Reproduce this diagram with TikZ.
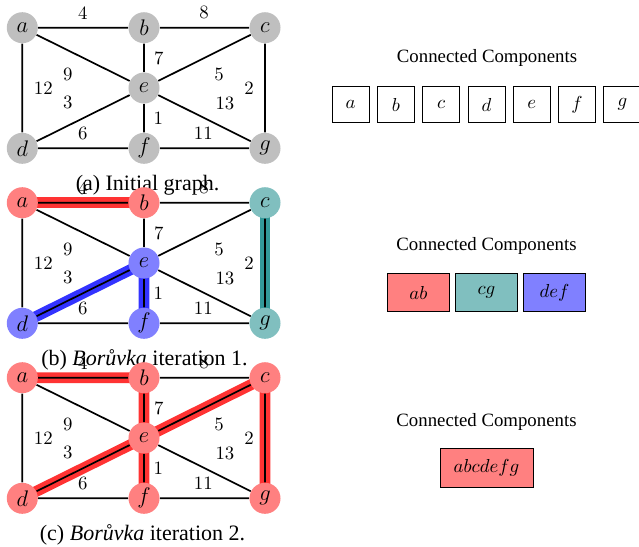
\documentclass[tikz,border=0pt]{standalone}
\usepackage{fontspec}
\setmainfont{Liberation Serif}
\usetikzlibrary{backgrounds}
\begin{document}
\begin{tikzpicture}[x=0.532pt,y=-0.532pt,
  vtx/.style={circle,minimum size=16.5pt,inner sep=0pt,font=\large},
  gedge/.style={line width=0.9pt,black},
  band/.style={line width=5.8pt},
  wlab/.style={inner sep=0pt},
  cbox/.style={draw,line width=0.5pt,inner sep=0pt},
  captxt/.style={inner sep=0pt,font=\fontsize{11.7}{14}\selectfont}]
\useasboundingbox (0,0) rectangle (639,546);

% ---------- graph (a) ----------
\node[vtx,fill=gray!50] (a1) at (22.3,27.7) {$a$};
\node[vtx,fill=gray!50] (b1) at (144,27.7) {$b$};
\node[vtx,fill=gray!50] (c1) at (265,27.7) {$c$};
\node[vtx,fill=gray!50] (e1) at (144,88) {$e$};
\node[vtx,fill=gray!50] (d1) at (22.3,148.3) {$d$};
\node[vtx,fill=gray!50] (f1) at (144,148.3) {$f$};
\node[vtx,fill=gray!50] (g1) at (265,148.3) {$g$};
\begin{pgfonlayer}{background}
\draw[gedge] (a1) -- (b1) (b1) -- (c1) (a1) -- (d1) (c1) -- (g1) (d1) -- (f1) (f1) -- (g1)
  (a1) -- (e1) (b1) -- (e1) (c1) -- (e1) (d1) -- (e1) (f1) -- (e1) (g1) -- (e1);
\end{pgfonlayer}
\node[wlab] (w4a) at (82.7,13.3) {$4$};
\node[wlab] (w8a) at (204,12.7) {$8$};
\node[wlab] (w7a) at (158.7,58.3) {$7$};
\node[wlab] (w9a) at (67.7,74) {$9$};
\node[wlab] (w12a) at (43.3,88.3) {$12$};
\node[wlab] (w3a) at (67.7,102.7) {$3$};
\node[wlab] (w5a) at (219,74) {$5$};
\node[wlab] (w2a) at (249,88.3) {$2$};
\node[wlab] (w13a) at (225,103.3) {$13$};
\node[wlab] (w6a) at (82.7,133.3) {$6$};
\node[wlab] (w1a) at (158.3,118.3) {$1$};
\node[wlab] (w11a) at (203.3,133.3) {$11$};
\node[captxt] (capa) at (147.5,185) {(a) Initial graph.};

% ---------- graph (b) ----------
\begin{scope}[shift={(0,175)}]
\node[vtx,fill=red!50] (a2) at (22.3,27.7) {$a$};
\node[vtx,fill=red!50] (b2) at (144,27.7) {$b$};
\node[vtx,fill=teal!50] (c2) at (265,27.7) {$c$};
\node[vtx,fill=blue!50] (e2) at (144,88) {$e$};
\node[vtx,fill=blue!50] (d2) at (22.3,148.3) {$d$};
\node[vtx,fill=blue!50] (f2) at (144,148.3) {$f$};
\node[vtx,fill=teal!50] (g2) at (265,148.3) {$g$};
\begin{pgfonlayer}{background}
\draw[band,red!80] (a2.center) -- (b2.center);
\draw[band,teal!80] (c2.center) -- (g2.center);
\draw[band,blue!80] (d2.center) -- (e2.center) (e2.center) -- (f2.center);
\draw[gedge] (a2) -- (b2) (b2) -- (c2) (a2) -- (d2) (c2) -- (g2) (d2) -- (f2) (f2) -- (g2)
  (a2) -- (e2) (b2) -- (e2) (c2) -- (e2) (d2) -- (e2) (f2) -- (e2) (g2) -- (e2);
\end{pgfonlayer}
\node[wlab] (w4b) at (82.7,13.3) {$4$};
\node[wlab] (w8b) at (204,12.7) {$8$};
\node[wlab] (w7b) at (158.7,58.3) {$7$};
\node[wlab] (w9b) at (67.7,74) {$9$};
\node[wlab] (w12b) at (43.3,88.3) {$12$};
\node[wlab] (w3b) at (67.7,102.7) {$3$};
\node[wlab] (w5b) at (219,74) {$5$};
\node[wlab] (w2b) at (249,88.3) {$2$};
\node[wlab] (w13b) at (225,103.3) {$13$};
\node[wlab] (w6b) at (82.7,133.3) {$6$};
\node[wlab] (w1b) at (158.3,118.3) {$1$};
\node[wlab] (w11b) at (203.3,133.3) {$11$};
\node[captxt] (capb) at (144.5,185) {(b) \textit{Borůvka} iteration 1.};
\end{scope}

% ---------- graph (c) ----------
\begin{scope}[shift={(0,350)}]
\node[vtx,fill=red!50] (a3) at (22.3,27.7) {$a$};
\node[vtx,fill=red!50] (b3) at (144,27.7) {$b$};
\node[vtx,fill=red!50] (c3) at (265,27.7) {$c$};
\node[vtx,fill=red!50] (e3) at (144,88) {$e$};
\node[vtx,fill=red!50] (d3) at (22.3,148.3) {$d$};
\node[vtx,fill=red!50] (f3) at (144,148.3) {$f$};
\node[vtx,fill=red!50] (g3) at (265,148.3) {$g$};
\begin{pgfonlayer}{background}
\draw[band,red!80] (a3.center) -- (b3.center) (b3.center) -- (e3.center)
  (e3.center) -- (f3.center) (d3.center) -- (e3.center) (e3.center) -- (c3.center)
  (c3.center) -- (g3.center);
\draw[gedge] (a3) -- (b3) (b3) -- (c3) (a3) -- (d3) (c3) -- (g3) (d3) -- (f3) (f3) -- (g3)
  (a3) -- (e3) (b3) -- (e3) (c3) -- (e3) (d3) -- (e3) (f3) -- (e3) (g3) -- (e3);
\end{pgfonlayer}
\node[wlab] (w4c) at (82.7,13.3) {$4$};
\node[wlab] (w8c) at (204,12.7) {$8$};
\node[wlab] (w7c) at (158.7,58.3) {$7$};
\node[wlab] (w9c) at (67.7,74) {$9$};
\node[wlab] (w12c) at (43.3,88.3) {$12$};
\node[wlab] (w3c) at (67.7,102.7) {$3$};
\node[wlab] (w5c) at (219,74) {$5$};
\node[wlab] (w2c) at (249,88.3) {$2$};
\node[wlab] (w13c) at (225,103.3) {$13$};
\node[wlab] (w6c) at (82.7,133.3) {$6$};
\node[wlab] (w1c) at (158.3,118.3) {$1$};
\node[wlab] (w11c) at (203.3,133.3) {$11$};
\node[captxt] (capc) at (142.5,185) {(c) \textit{Borůvka} iteration 2.};
\end{scope}

% ---------- connected components ----------
\node (ttla) at (487,58.3) {Connected Components};
\begin{scope}[every node/.style={cbox,minimum width=19.7pt,minimum height=19.2pt}]
\node (ka) at (350.5,104.7) {$a$};
\node (kb) at (395.8,104.7) {$b$};
\node (kc) at (441.2,104.7) {$c$};
\node (kd) at (486.5,104.7) {$d$};
\node (ke) at (531.8,104.7) {$e$};
\node (kf) at (577.1,104.7) {$f$};
\node (kg) at (622.4,104.7) {$g$};
\end{scope}

\node (ttlb) at (486.5,246) {Connected Components};
\begin{scope}[every node/.style={cbox,minimum width=32.5pt,minimum height=20.5pt}]
\node[fill=red!50] (kab) at (418.5,292.5) {$ab$};
\node[fill=teal!50] (kcg) at (486.5,292.5) {$cg$};
\node[fill=blue!50] (kdef) at (554.5,292.5) {$def$};
\end{scope}

\node (ttlc) at (486.5,421.7) {Connected Components};
\node[cbox,minimum width=49.5pt,minimum height=20.7pt,fill=red!50] (kall) at (486.5,467.8) {$abcdefg$};
\end{tikzpicture}
\end{document}
